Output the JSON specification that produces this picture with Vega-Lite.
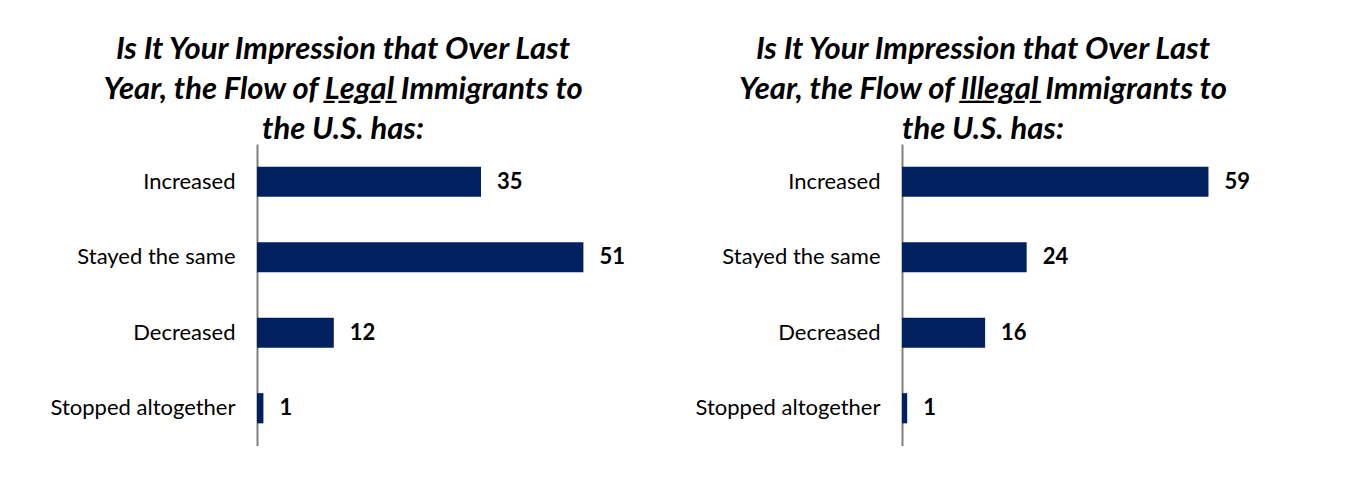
{
  "$schema": "https://vega.github.io/schema/vega-lite/v6.json",
  "padding": {"left": 45, "top": 34, "right": 0, "bottom": 0},
  "background": "white",
  "spacing": 49,
  "config": {
    "view": {"stroke": null},
    "font": "Lato",
    "title": {"font": "Lato", "fontSize": 31, "fontWeight": "bold", "fontStyle": "italic", "color": "black", "lineHeight": 40, "anchor": "middle", "frame": "bounds", "offset": -2}
  },
  "datasets": {
    "legal": [
      {"answer": "Increased", "pct": 35},
      {"answer": "Stayed the same", "pct": 51},
      {"answer": "Decreased", "pct": 12},
      {"answer": "Stopped altogether", "pct": 1}
    ],
    "illegal": [
      {"answer": "Increased", "pct": 59},
      {"answer": "Stayed the same", "pct": 24},
      {"answer": "Decreased", "pct": 16},
      {"answer": "Stopped altogether", "pct": 1}
    ]
  },
  "hconcat": [
    {
      "title": {"text": ["Is It Your Impression that Over Last", "Year, the Flow of ̲L̲e̲g̲a̲l Immigrants to", "the U.S. has:"]},
      "data": {"name": "legal"},
      "width": 384,
      "height": 302,
      "encoding": {
        "y": {"field": "answer", "type": "nominal", "sort": null,
          "scale": {"paddingInner": 0.6, "paddingOuter": 0.3},
          "axis": {"title": null, "ticks": false, "labelFont": "Lato", "labelFontSize": 22, "labelColor": "black", "labelPadding": 22, "domainColor": "#808080", "domainWidth": 2, "minExtent": 212, "maxExtent": 212, "labelLimit": 300}},
        "x": {"field": "pct", "type": "quantitative", "scale": {"domain": [0, 60]}, "axis": null}
      },
      "layer": [
        {"mark": {"type": "bar", "color": "#002060"}},
        {"mark": {"type": "text", "align": "left", "baseline": "middle", "dx": 16, "fontSize": 22, "fontWeight": "bold", "color": "black"}, "encoding": {"text": {"field": "pct", "type": "quantitative"}}}
      ]
    },
    {
      "title": {"text": ["Is It Your Impression that Over Last", "Year, the Flow of ̲I̲l̲l̲e̲g̲a̲l Immigrants to", "the U.S. has:"]},
      "data": {"name": "illegal"},
      "width": 374,
      "height": 302,
      "encoding": {
        "y": {"field": "answer", "type": "nominal", "sort": null,
          "scale": {"paddingInner": 0.6, "paddingOuter": 0.3},
          "axis": {"title": null, "ticks": false, "labelFont": "Lato", "labelFontSize": 22, "labelColor": "black", "labelPadding": 22, "domainColor": "#808080", "domainWidth": 2, "minExtent": 212, "maxExtent": 212, "labelLimit": 300}},
        "x": {"field": "pct", "type": "quantitative", "scale": {"domain": [0, 72]}, "axis": null}
      },
      "layer": [
        {"mark": {"type": "bar", "color": "#002060"}},
        {"mark": {"type": "text", "align": "left", "baseline": "middle", "dx": 16, "fontSize": 22, "fontWeight": "bold", "color": "black"}, "encoding": {"text": {"field": "pct", "type": "quantitative"}}}
      ]
    }
  ]
}
